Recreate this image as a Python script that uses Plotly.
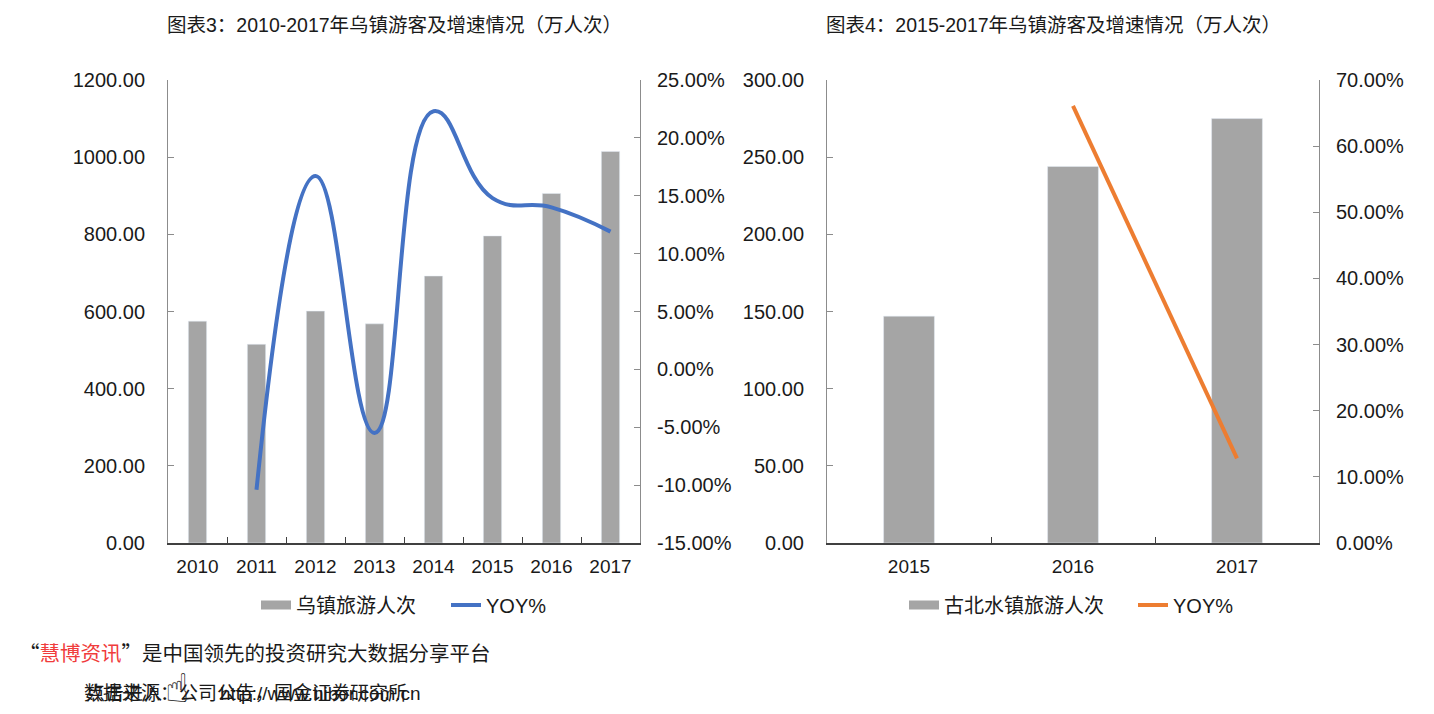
import plotly.graph_objects as go

# ---------------- data ----------------
years_a = ["2010", "2011", "2012", "2013", "2014", "2015", "2016", "2017"]
visitors_a = [575, 515, 601, 568, 692, 796, 906, 1015]
yoy_years_a = ["2011", "2012", "2013", "2014", "2015", "2016", "2017"]
yoy_a = [-0.104, 0.167, -0.055, 0.223, 0.148, 0.140, 0.119]

years_b = ["2015", "2016", "2017"]
visitors_b = [147, 244, 275]
yoy_years_b = ["2016", "2017"]
yoy_b = [0.661, 0.128]

yA_vals = [0, 200, 400, 600, 800, 1000, 1200]
yA_text = ["0.00", "200.00", "400.00", "600.00", "800.00", "1000.00", "1200.00"]
y2A_vals = [-0.15, -0.10, -0.05, 0.0, 0.05, 0.10, 0.15, 0.20, 0.25]
y2A_text = ["-15.00%", "-10.00%", "-5.00%", "0.00%", "5.00%", "10.00%", "15.00%", "20.00%", "25.00%"]
yB_vals = [0, 50, 100, 150, 200, 250, 300]
yB_text = ["0.00", "50.00", "100.00", "150.00", "200.00", "250.00", "300.00"]
y2B_vals = [0.0, 0.1, 0.2, 0.3, 0.4, 0.5, 0.6, 0.7]
y2B_text = ["0.00%", "10.00%", "20.00%", "30.00%", "40.00%", "50.00%", "60.00%", "70.00%"]

title_a = "图表3：2010-2017年乌镇游客及增速情况（万人次）"
title_b = "图表4：2015-2017年乌镇游客及增速情况（万人次）"
name_bar_a = "乌镇旅游人次"
name_bar_b = "古北水镇旅游人次"
name_line = "YOY%"

# ---------------- style ----------------
W, H = 1434, 714
FONT = "Liberation Sans, Arial, Noto Sans CJK SC, sans-serif"
CJK = "Noto Sans CJK SC, sans-serif"
BAR = "#a5a5a5"
BLUE = "#4472c4"
ORANGE = "#ed7d31"
AX = "#8c8c8c"


def px(x):
    return x / W


def py(y):
    return 1 - y / H


fig = go.Figure()

# chart A
fig.add_trace(go.Bar(x=years_a, y=visitors_a, width=0.31, marker=dict(color=BAR),
                     xaxis="x", yaxis="y", showlegend=False, name=name_bar_a))
fig.add_trace(go.Scatter(x=[None], y=[None], mode="lines", name=name_bar_a,
                         line=dict(color=BAR, width=9), xaxis="x", yaxis="y", legend="legend"))
fig.add_trace(go.Scatter(x=yoy_years_a, y=yoy_a, mode="lines", name=name_line,
                         line=dict(color=BLUE, width=4, shape="spline", smoothing=1.3),
                         xaxis="x", yaxis="y2", legend="legend"))

# chart B
fig.add_trace(go.Bar(x=years_b, y=visitors_b, width=0.31, marker=dict(color=BAR),
                     xaxis="x2", yaxis="y3", showlegend=False, name=name_bar_b))
fig.add_trace(go.Scatter(x=[None], y=[None], mode="lines", name=name_bar_b,
                         line=dict(color=BAR, width=9), xaxis="x2", yaxis="y3", legend="legend2"))
fig.add_trace(go.Scatter(x=yoy_years_b, y=yoy_b, mode="lines", name=name_line,
                         line=dict(color=ORANGE, width=4),
                         xaxis="x2", yaxis="y4", legend="legend2"))

ydom = [py(543), py(80)]
tickfont = dict(family=FONT, size=20, color="#1a1a1a")
xtickfont = dict(family=FONT, size=19, color="#1a1a1a")

common_x = dict(type="category", showline=True, linecolor="#404040", linewidth=1.5,
                ticks="inside", ticklen=6, tickcolor="#404040", tickson="boundaries",
                showgrid=False, zeroline=False, tickfont=xtickfont, ticklabelstandoff=5,
                automargin=False)
common_y = dict(showline=True, linecolor=AX, linewidth=1, ticks="inside", ticklen=6,
                tickcolor=AX, showgrid=False, zeroline=False, tickfont=tickfont,
                tickmode="array", automargin=False)

legfont = dict(family=FONT, size=20, color="#1a1a1a")

fig.update_layout(
    width=W, height=H, margin=dict(l=0, r=0, t=0, b=0, autoexpand=False),
    paper_bgcolor="white", plot_bgcolor="white",
    font=dict(family=FONT, color="#1a1a1a"),
    xaxis=dict(domain=[px(168), px(640)], range=[-0.5, 7.5], anchor="y", **common_x),
    yaxis=dict(domain=ydom, range=[0, 1200], tickvals=yA_vals, ticktext=yA_text,
               anchor="x", ticklabelstandoff=18, **common_y),
    yaxis2=dict(domain=ydom, range=[-0.15, 0.25], tickvals=y2A_vals, ticktext=y2A_text,
                overlaying="y", side="right", anchor="x", ticklabelstandoff=12, **common_y),
    xaxis2=dict(domain=[px(827), px(1319)], range=[-0.5, 2.5], anchor="y3", **common_x),
    yaxis3=dict(domain=ydom, range=[0, 300], tickvals=yB_vals, ticktext=yB_text,
                anchor="x2", ticklabelstandoff=18, **common_y),
    yaxis4=dict(domain=ydom, range=[0, 0.7], tickvals=y2B_vals, ticktext=y2B_text,
                overlaying="y3", side="right", anchor="x2", ticklabelstandoff=12, **common_y),
    legend=dict(orientation="h", x=px(256), y=py(605), xanchor="left", yanchor="middle",
                font=legfont, bgcolor="rgba(0,0,0,0)", entrywidth=145, entrywidthmode="pixels"),
    legend2=dict(orientation="h", x=px(904), y=py(605), xanchor="left", yanchor="middle",
                 font=legfont, bgcolor="rgba(0,0,0,0)", entrywidth=184, entrywidthmode="pixels"),
)

ann = [
    dict(text=title_a, x=px(165), y=py(25), xanchor="left", yanchor="middle",
         font=dict(size=19.5)),
    dict(text=title_b, x=px(824), y=py(25), xanchor="left", yanchor="middle",
         font=dict(size=19.5)),
    dict(text='“<span style="color:#f03c3c">慧博资讯</span>”是中国领先的投资研究大数据分享平台',
         x=px(17), y=py(652), xanchor="left", yanchor="middle",
         font=dict(size=20.5, family=CJK)),
    dict(text="数据来源：公司公告，国金证券研究所", x=px(82), y=py(693), xanchor="left",
         yanchor="middle", font=dict(size=19)),
    dict(text="点击进入", x=px(84), y=py(693), xanchor="left", yanchor="middle",
         font=dict(size=19)),
    dict(text="http://www.hibor.com.cn", x=px(423), y=py(693), xanchor="right",
         yanchor="middle", font=dict(size=19)),
    dict(text="☝", x=px(177), y=py(688), xanchor="center", yanchor="middle",
         font=dict(family="DejaVu Sans", size=40, color="#222")),
]
for a in ann:
    a.update(xref="paper", yref="paper", showarrow=False)
    a["font"].setdefault("family", FONT)
    a["font"].setdefault("color", "#1a1a1a")
fig.update_layout(annotations=ann)

fig.write_html("out.html", config={"displayModeBar": False},
               post_script="document.body.style.margin='0';document.body.style.overflow='hidden';")
